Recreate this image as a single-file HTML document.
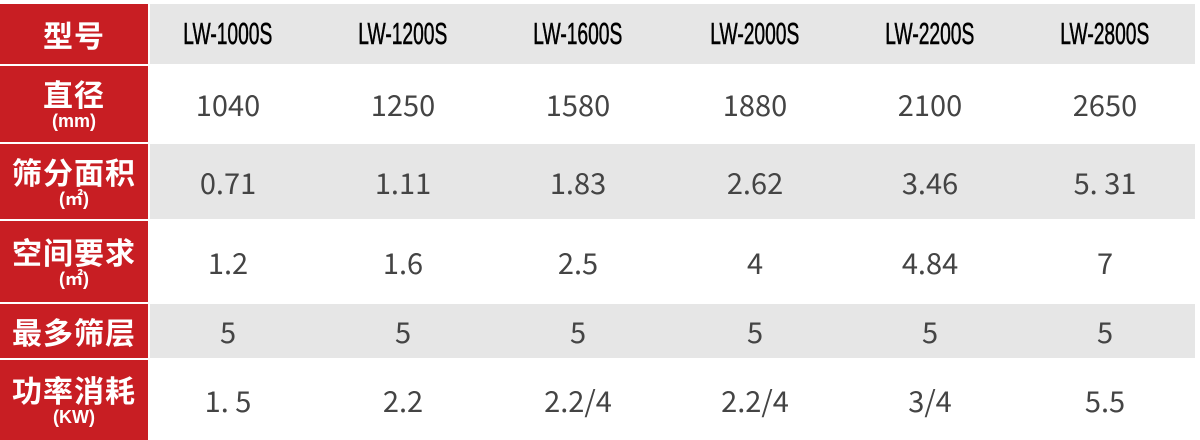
<!DOCTYPE html>
<html><head><meta charset="utf-8"><style>
html,body{margin:0;padding:0;background:#fff;}
body{width:1200px;height:440px;position:relative;overflow:hidden;font-family:"Liberation Sans","Noto Sans CJK SC",sans-serif;}
.row{position:absolute;left:0;width:1195px;}
.lab{position:absolute;left:0;top:0;bottom:0;width:148px;background:#c81e23;color:#fff;text-align:center;display:flex;flex-direction:column;justify-content:center;align-items:center;}
.lab .m{font-size:30px;font-weight:bold;line-height:34px;letter-spacing:1px;font-family:"Noto Sans CJK SC",sans-serif;}
.lab .u{font-size:18px;line-height:22px;font-weight:bold;font-family:"Liberation Sans","Noto Sans CJK SC",sans-serif;}
.bg{position:absolute;left:150px;right:0;top:0;bottom:0;}
.c{position:absolute;top:0;bottom:0;width:170px;margin-left:-85px;display:flex;align-items:center;justify-content:center;color:#444;font-size:29px;font-family:"Noto Sans CJK SC","Liberation Sans",sans-serif;}
.c.h{color:#000;font-size:31px;font-family:"Liberation Sans",sans-serif;-webkit-text-stroke:0.6px #000;}
.h span{display:inline-block;transform:scaleX(0.62);}
</style></head><body>

<div class="row" style="top:4px;height:60px;"><div class="lab"><div class="m">型号</div></div><div class="bg" style="background:#e6e6e6"></div>
<div class="c h" style="left:228px"><span>LW-1000S</span></div><div class="c h" style="left:403px"><span>LW-1200S</span></div><div class="c h" style="left:578px"><span>LW-1600S</span></div><div class="c h" style="left:755px"><span>LW-2000S</span></div><div class="c h" style="left:930px"><span>LW-2200S</span></div><div class="c h" style="left:1105px"><span>LW-2800S</span></div></div>

<div class="row" style="top:66px;height:76px;"><div class="lab"><div class="m">直径</div><div class="u">(mm)</div></div><div class="bg" style="background:#fff"></div>
<div class="c" style="left:228px">1040</div><div class="c" style="left:403px">1250</div><div class="c" style="left:578px">1580</div><div class="c" style="left:755px">1880</div><div class="c" style="left:930px">2100</div><div class="c" style="left:1105px">2650</div></div>

<div class="row" style="top:144px;height:75px;"><div class="lab"><div class="m">筛分面积</div><div class="u">(㎡)</div></div><div class="bg" style="background:#e6e6e6"></div>
<div class="c" style="left:228px">0.71</div><div class="c" style="left:403px">1.11</div><div class="c" style="left:578px">1.83</div><div class="c" style="left:755px">2.62</div><div class="c" style="left:930px">3.46</div><div class="c" style="left:1105px">5. 31</div></div>

<div class="row" style="top:221px;height:81px;"><div class="lab"><div class="m">空间要求</div><div class="u">(㎡)</div></div><div class="bg" style="background:#fff"></div>
<div class="c" style="left:228px">1.2</div><div class="c" style="left:403px">1.6</div><div class="c" style="left:578px">2.5</div><div class="c" style="left:755px">4</div><div class="c" style="left:930px">4.84</div><div class="c" style="left:1105px">7</div></div>

<div class="row" style="top:304px;height:54px;"><div class="lab"><div class="m">最多筛层</div></div><div class="bg" style="background:#e6e6e6"></div>
<div class="c" style="left:228px">5</div><div class="c" style="left:403px">5</div><div class="c" style="left:578px">5</div><div class="c" style="left:755px">5</div><div class="c" style="left:930px">5</div><div class="c" style="left:1105px">5</div></div>

<div class="row" style="top:360px;height:80px;"><div class="lab"><div class="m">功率消耗</div><div class="u">(KW)</div></div><div class="bg" style="background:#fff"></div>
<div class="c" style="left:228px">1. 5</div><div class="c" style="left:403px">2.2</div><div class="c" style="left:578px">2.2/4</div><div class="c" style="left:755px">2.2/4</div><div class="c" style="left:930px">3/4</div><div class="c" style="left:1105px">5.5</div></div>

</body></html>
